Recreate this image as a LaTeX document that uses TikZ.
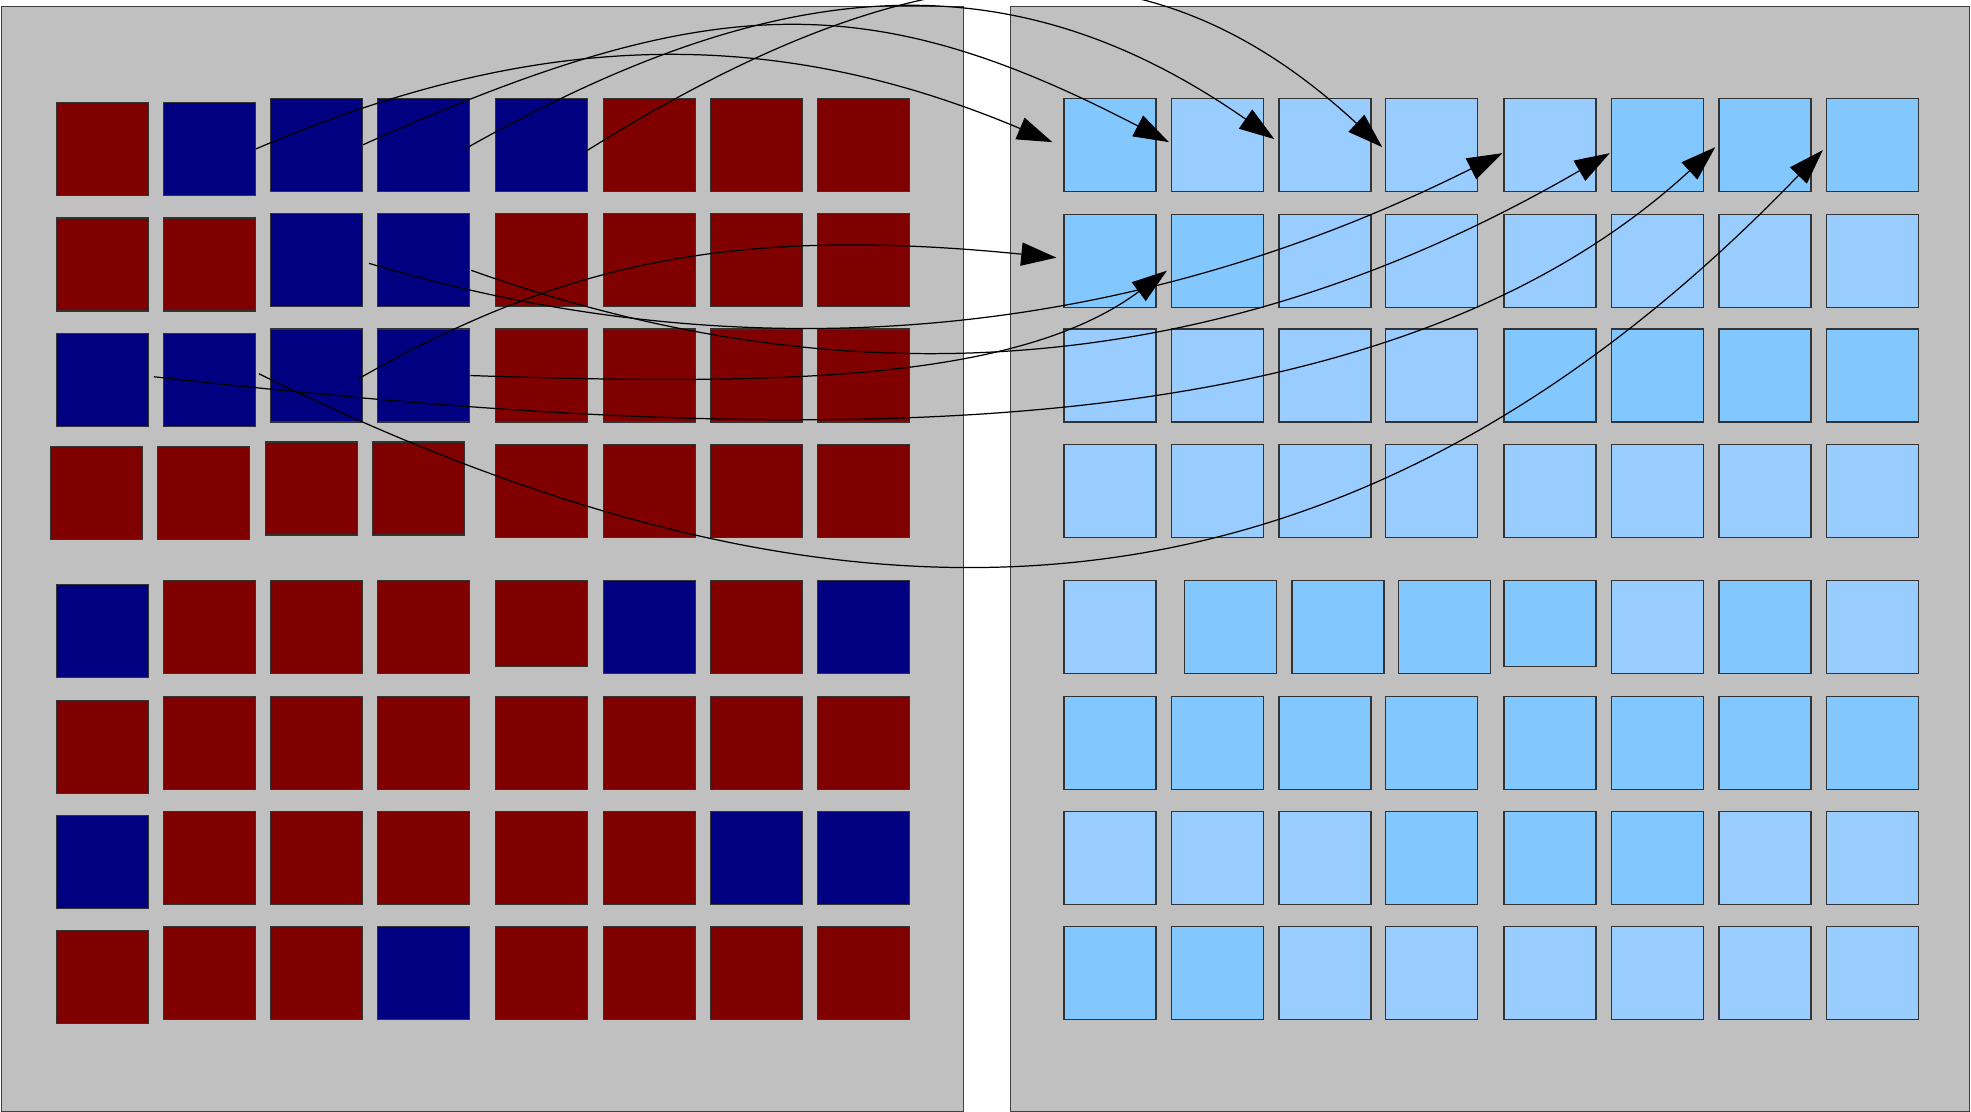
\documentclass[tikz,border=0pt]{standalone}
\usepackage{xcolor}
\usepackage{tikz}
\usetikzlibrary{arrows.meta}
\definecolor{cellred}{HTML}{800000}
\definecolor{cellblue}{HTML}{000080}
\definecolor{skylight}{HTML}{99CCFF}
\definecolor{skydark}{HTML}{82C8FF}
\definecolor{panelgray}{HTML}{C0C0C0}
\tikzset{
  panel/.style={rectangle, draw=black!75, fill=panelgray, line width=0.4pt,
                inner sep=0pt, anchor=north west},
  cell/.style={rectangle, draw=black!80, line width=0.35pt, inner sep=0pt,
               anchor=north west, minimum width=0.92cm, minimum height=0.93cm},
  redcell/.style={cell, fill=cellred},
  bluecell/.style={cell, fill=cellblue},
  redshort/.style={redcell, minimum height=0.86cm},
  palecell/.style={cell, fill=skylight},
  skycell/.style={cell, fill=skydark},
  skyshort/.style={skycell, minimum height=0.86cm},
  arrow/.style={-{Triangle[length=10pt, width=6.6pt]}, line width=0.35pt},
}

\begin{document}
\begin{tikzpicture}[x=0.01cm, y=-0.01cm]
  \useasboundingbox (0,0) rectangle (1971,1112);
  \node[panel, minimum width=9.61cm, minimum height=11.04cm] (left) at (1,6) {};
  \node[panel, minimum width=9.58cm, minimum height=11.04cm] (right) at (1010,6) {};

  \foreach \r/\ya/\yb/\k/\row in {
      1/101.8/97.6/2/{redcell,bluecell,bluecell,bluecell,bluecell,redcell,redcell,redcell},
      2/217.4/213.2/2/{redcell,redcell,bluecell,bluecell,redcell,redcell,redcell,redcell},
      3/332.6/328.4/2/{bluecell,bluecell,bluecell,bluecell,redcell,redcell,redcell,redcell},
      5/583.7/579.7/1/{bluecell,redcell,redcell,redcell,redshort,bluecell,redcell,bluecell},
      6/699.5/695.5/1/{redcell,redcell,redcell,redcell,redcell,redcell,redcell,redcell},
      7/814.5/810.6/1/{bluecell,redcell,redcell,redcell,redcell,redcell,bluecell,bluecell},
      8/929.6/925.6/1/{redcell,redcell,redcell,bluecell,redcell,redcell,redcell,redcell}}
    \foreach \s [count=\c] in \row {
      \pgfmathsetmacro\xx{{55.5,162.6,269.8,377,494.9,602.7,709.8,817}[\c-1]}
      \pgfmathsetmacro\yy{ifthenelse(\c<\k+1,\ya,\yb)}
      \node[\s] (l\r-\c) at (\xx,\yy) {};
    }
  \foreach \c/\xx/\yy in {1/49.7/445.5, 2/156.9/445.5, 3/264.7/441.3, 4/371.8/441.3,
                          5/494.9/444, 6/602.7/444, 7/709.8/444, 8/817/444}
    \node[redcell] (l4-\c) at (\xx,\yy) {};

  \foreach \r/\yy/\row in {
      1/98/{skycell,palecell,palecell,palecell,palecell,skycell,skycell,skycell},
      2/213.5/{skycell,skycell,palecell,palecell,palecell,palecell,palecell,palecell},
      3/328.4/{palecell,palecell,palecell,palecell,skycell,skycell,skycell,skycell},
      4/444/{palecell,palecell,palecell,palecell,palecell,palecell,palecell,palecell},
      5/579.7/{palecell,skycell,skycell,skycell,skyshort,palecell,skycell,palecell},
      6/695.5/{skycell,skycell,skycell,skycell,skycell,skycell,skycell,skycell},
      7/810.6/{palecell,palecell,palecell,skycell,skycell,skycell,palecell,palecell},
      8/925.6/{skycell,skycell,palecell,palecell,palecell,palecell,palecell,palecell}}
    \foreach \s [count=\c] in \row {
      \pgfmathsetmacro\xx{{1063.4,1170.9,1278.4,1385.2,1503.4,1610.8,1718.3,1825.8}[\c-1]
                          + ifthenelse(and(\r==5,and(\c>1,\c<5)),13,0)}
      \node[\s] (r\r-\c) at (\xx,\yy) {};
    }

  \draw[arrow] (l1-2.east) .. controls +(280,-120) and +(-280,-118) .. ([shift={(-11,-3)}]r1-1.west);
  \draw[arrow] (l1-3.east) .. controls +(347,-156) and +(-300,-156) .. ([shift={(-2,-3)}]r1-2.west);
  \draw[arrow] ([shift={(-5,4)}]l1-4.east) .. controls +(320,-181) and +(-260,-181) .. ([shift={(-4,-6)}]r1-3.west);
  \draw[arrow] ([shift={(-3,7)}]l1-5.east) .. controls +(340,-213) and +(-230,-213) .. ([shift={(-3,2)}]r1-4.west);
  \draw[arrow] ([shift={(6,3)}]l2-3.east) .. controls +(350,105) and +(-400,200) .. ([shift={(-1,8)}]r1-5.west);
  \draw[arrow] ([shift={(1,10)}]l2-4.east) .. controls +(420,150) and +(-350,203) .. ([shift={(-1,8)}]r1-6.west);
  \draw[arrow] ([shift={(5,-3)}]l3-1.east) .. controls +(600,67) and +(-350,322) .. ([shift={(-3,2)}]r1-7.west);
  \draw[arrow] ([shift={(3,-6)}]l3-2.east) .. controls +(530,260) and +(-520,540) .. ([shift={(-3,5)}]r1-8.west);
  \draw[arrow] ([shift={(-6,4)}]l3-3.east) .. controls +(200,-114) and +(-330,-33) .. ([shift={(-7,-3)}]r2-1.west);
  \draw[arrow] (l3-4.east) .. controls +(300,10) and +(-150,112) .. ([shift={(-4,10)}]r2-2.west);
\end{tikzpicture}
\end{document}
